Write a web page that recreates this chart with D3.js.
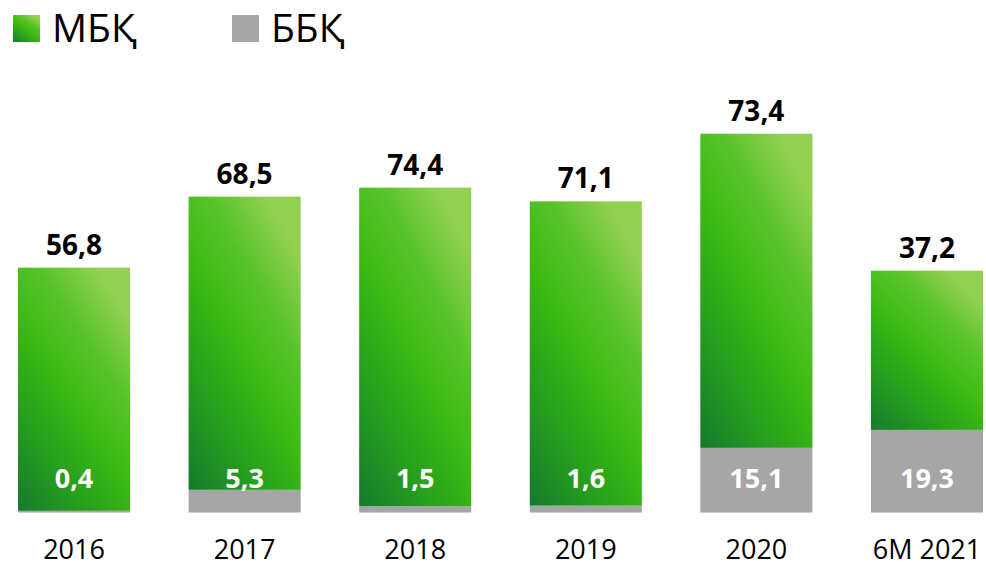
<!DOCTYPE html>
<html>
<head>
<meta charset="utf-8">
<script src="https://cdn.jsdelivr.net/npm/d3@7"></script>
<style>
  html, body { margin: 0; padding: 0; background: #fff; }
  svg { display: block; font-family: 'Open Sans', 'Noto Sans', sans-serif; }
</style>
</head>
<body>
<div id="chart-container"></div>
<script>
// Data
const periods = ['2016', '2017', '2018', '2019', '2020', '6М 2021']
const mbkValues = [56.8, 68.5, 74.4, 71.1, 73.4, 37.2]   // green, top segment
const bbkValues = [0.4, 5.3, 1.5, 1.6, 15.1, 19.3]      // gray, bottom segment
const seriesNames = ['МБҚ', 'ББҚ']

const width = 986
const height = 566
const baseline = 512.5
const grayColor = '#a6a6a6'

const rows = periods.map((p, i) => ({ period: p, mbk: mbkValues[i], bbk: bbkValues[i] }))

const svg = d3.select('#chart-container')
    .append('svg')
    .attr('width', width)
    .attr('height', height)

// Green gradient: dark at the bottom, bright middle, light only toward the top-right
const defs = svg.append('defs')
const grad = defs.append('linearGradient')
    .attr('id', 'greenGrad')
    .attr('x1', 0).attr('y1', 1)
    .attr('x2', 0.7).attr('y2', 0)
grad.append('stop').attr('offset', '0%').attr('stop-color', '#167a2e')
grad.append('stop').attr('offset', '25%').attr('stop-color', '#249a1f')
grad.append('stop').attr('offset', '55%').attr('stop-color', '#3dbb12')
grad.append('stop').attr('offset', '75%').attr('stop-color', '#55c328')
grad.append('stop').attr('offset', '100%').attr('stop-color', '#92d050')

const xScale = d3.scaleBand()
    .domain(periods)
    .range([18, 983])
    .paddingInner(0.343)
    .paddingOuter(0)

const yScale = d3.scaleLinear()
    .domain([0, 100])
    .range([baseline, baseline - 428])

const bars = svg.selectAll('.bar')
    .data(rows)
    .enter()
    .append('g')
    .attr('class', 'bar')

// gray ББҚ at the bottom
bars.append('rect')
    .attr('x', d => xScale(d.period))
    .attr('width', xScale.bandwidth())
    .attr('y', d => yScale(d.bbk))
    .attr('height', d => yScale(0) - yScale(d.bbk))
    .attr('fill', grayColor)

// green МБҚ stacked on top
bars.append('rect')
    .attr('x', d => xScale(d.period))
    .attr('width', xScale.bandwidth())
    .attr('y', d => yScale(d.bbk + d.mbk))
    .attr('height', d => yScale(d.bbk) - yScale(d.bbk + d.mbk))
    .attr('fill', 'url(#greenGrad)')

const fmt = v => d3.format('.1f')(v).replace('.', ',')

// МБҚ labels above bars
bars.append('text')
    .attr('x', d => xScale(d.period) + xScale.bandwidth() / 2)
    .attr('y', d => yScale(d.bbk + d.mbk) - 13)
    .attr('text-anchor', 'middle')
    .attr('font-size', 28)
    .attr('font-weight', 700)
    .attr('fill', '#000')
    .text(d => fmt(d.mbk))

// ББҚ labels near the bottom, white
bars.append('text')
    .attr('x', d => xScale(d.period) + xScale.bandwidth() / 2)
    .attr('y', baseline - 25)
    .attr('text-anchor', 'middle')
    .attr('font-size', 27)
    .attr('font-weight', 700)
    .attr('fill', '#fff')
    .text(d => fmt(d.bbk))

// category axis, no lines
const xAxis = d3.axisBottom(xScale).tickSize(0).tickPadding(0)
const axisG = svg.append('g')
    .attr('transform', 'translate(0,' + 559 + ')')
    .call(xAxis)
axisG.select('.domain').remove()
axisG.selectAll('text')
    .attr('dy', 0)
    .attr('font-size', 27)
    .attr('font-family', "'Open Sans', sans-serif")
    .attr('fill', '#000')

// legend
const legend = svg.append('g').attr('id', 'legend')
const legendItems = legend.selectAll('.legend-item')
    .data(seriesNames)
    .enter()
    .append('g')
    .attr('class', 'legend-item')
    .attr('transform', (d, i) => `translate(${13 + i * 219}, 15)`)

legendItems.append('rect')
    .attr('width', 27)
    .attr('height', 27)
    .attr('fill', (d, i) => i === 0 ? 'url(#greenGrad)' : grayColor)

legendItems.append('text')
    .attr('x', 39)
    .attr('y', 27)
    .attr('font-size', 39)
    .attr('fill', '#000')
    .text(d => d)
</script>
</body>
</html>
